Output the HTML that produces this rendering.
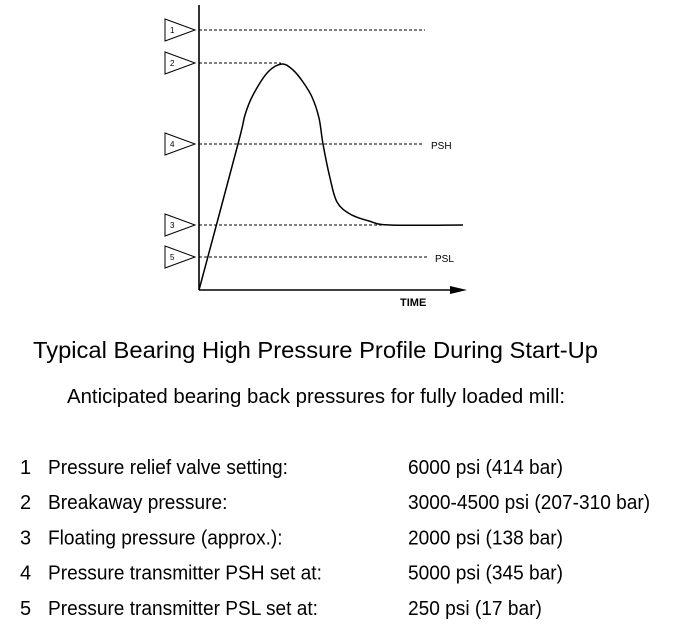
<!DOCTYPE html>
<html><head><meta charset="utf-8"><style>
html,body{margin:0;padding:0;background:#fff;}
svg{display:block;font-family:"Liberation Sans",Arial,sans-serif;}
</style></head><body>
<svg id="chart" width="680" height="629" viewBox="0 0 680 629">
<g id="plot"></g>
<text x="33" y="358" font-size="23" textLength="565" lengthAdjust="spacingAndGlyphs">Typical Bearing High Pressure Profile During Start-Up</text>
<text x="67" y="403" font-size="20" textLength="498" lengthAdjust="spacingAndGlyphs">Anticipated bearing back pressures for fully loaded mill:</text>
<g id="table"></g>
</svg>
<script>
// Schematic pressure levels (relative units, 0 = time axis)
const levelIds = ["1","2","4","3","5"];
const levelValues = [260, 227, 146, 65, 33];
const levelEnds = [226, 82, 224, 264, 228];   // time where the dashed line ends
const levelTags = ["", "", "PSH", "", "PSL"];
// Curve: time vs pressure (relative units)
const curveTime = [0, 39, 46, 54, 69, 83, 94, 104, 113, 120, 124, 131, 138, 151, 170, 191, 264];
const curvePressure = [0, 146, 175, 195, 218, 226, 220, 208, 193, 172, 146, 112, 88, 76, 69, 65, 65];
// Table rows
const rowNums = ["1","2","3","4","5"];
const rowLabels = ["Pressure relief valve setting:","Breakaway pressure:","Floating pressure (approx.):","Pressure transmitter PSH set at:","Pressure transmitter PSL set at:"];
const rowValues = ["6000 psi (414 bar)","3000-4500 psi (207-310 bar)","2000 psi (138 bar)","5000 psi (345 bar)","250 psi (17 bar)"];

const NS="http://www.w3.org/2000/svg";
const X0=199, Y0=290;
const xs=t=>X0+t;
const ys=v=>Y0-v;
function mk(tag,attrs,parent){const e=document.createElementNS(NS,tag);for(const k in attrs)e.setAttribute(k,attrs[k]);parent.appendChild(e);return e;}
const plot=document.getElementById("plot");

let ya=mk("line",{x1:X0,y1:5,x2:X0,y2:Y0,stroke:"#000","stroke-width":1.6},plot);


let xa=mk("line",{x1:X0,y1:Y0,x2:452,y2:Y0,stroke:"#000","stroke-width":1.6},plot);


let ar=mk("polygon",{points:"450,286 467,290 450,294",fill:"#000"},plot);


let tl=mk("text",{x:400,y:306,"font-size":11,"font-weight":"bold"},plot);
tl.textContent="TIME";



levelValues.forEach((v,i)=>{
  const y=ys(v);
  let l=mk("line",{x1:X0,y1:y,x2:xs(levelEnds[i]),y2:y,stroke:"#000","stroke-width":1,"stroke-dasharray":"3,2"},plot);
  
  
  let tri=mk("polygon",{points:`165,${y-11} 195,${y} 165,${y+11}`,fill:"#fff",stroke:"#000","stroke-width":1},plot);
  
  
  let t=mk("text",{x:170,y:y+3,"font-size":8},plot);
  t.textContent=levelIds[i];
  
  
  if(levelTags[i]){
    let tg=mk("text",{x:xs(levelEnds[i])+8,y:y+5,"font-size":10},plot);
    tg.textContent=levelTags[i];
    
    
  }
});

// smooth curve (Catmull-Rom)
const P=curveTime.map((t,i)=>[xs(t),ys(curvePressure[i])]);
let d="M"+P[0][0]+","+P[0][1];
for(let i=0;i<P.length-1;i++){
  const p0=P[Math.max(0,i-1)],p1=P[i],p2=P[i+1],p3=P[Math.min(P.length-1,i+2)];
  const k=i===0?0:1/6;
  const c1=[p1[0]+(p2[0]-p0[0])*k,p1[1]+(p2[1]-p0[1])*k];
  const c2=[p2[0]-(p3[0]-p1[0])/6,p2[1]-(p3[1]-p1[1])/6];
  d+=` C${c1[0]},${c1[1]} ${c2[0]},${c2[1]} ${p2[0]},${p2[1]}`;
}
let cp=mk("path",{d:d,fill:"none",stroke:"#000","stroke-width":1.5,"stroke-linejoin":"round"},plot);



const table=document.getElementById("table");
function fit(el){const w=el.getComputedTextLength();el.setAttribute("textLength",(w*0.955).toFixed(1));el.setAttribute("lengthAdjust","spacingAndGlyphs");}
rowNums.forEach((n,i)=>{
  const y=474+i*35.2;
  let a=mk("text",{x:20,y:y,"font-size":20},table);
  a.textContent=n;
  
  
  let b=mk("text",{x:48,y:y,"font-size":20},table);
  b.textContent=rowLabels[i];
  
  
  fit(b);
  let c=mk("text",{x:408,y:y,"font-size":20},table);
  c.textContent=rowValues[i];
  
  
  fit(c);
});
</script>
</body></html>
